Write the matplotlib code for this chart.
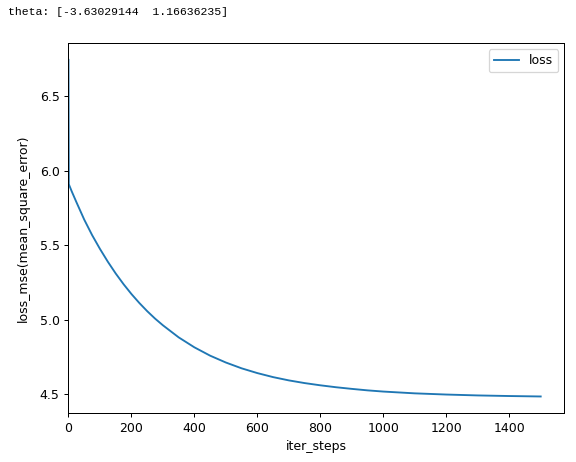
import matplotlib
matplotlib.use("Agg")
import matplotlib.pyplot as plt

# theta printed above the figure
theta = [-3.63029144, 1.16636235]

# loss
steps = [0, 1, 10, 25, 50, 75, 100, 125, 150, 175, 200, 225, 250, 275, 300,
         350, 400, 450, 500, 550, 600, 650, 700, 750, 800, 850, 900, 950,
         1000, 1100, 1200, 1300, 1400, 1500]
loss = [6.745, 5.91, 5.863, 5.79, 5.672, 5.568, 5.475, 5.389, 5.31, 5.238,
        5.172, 5.112, 5.057, 5.007, 4.962, 4.881, 4.814, 4.758, 4.712, 4.673,
        4.641, 4.614, 4.592, 4.574, 4.559, 4.546, 4.535, 4.525, 4.517, 4.505,
        4.497, 4.491, 4.487, 4.484]

fig = plt.figure(figsize=(6.4, 462 / 90), dpi=90)
fig.text(8 / 576, 1 - 12 / 462,
         "theta: [%.8f  %.8f]" % (theta[0], theta[1]),
         family="Liberation Mono", fontsize=9.2, va="center", ha="left")

ax = fig.add_axes([0.1189, 0.1054, 0.8608, 0.8015])
ax.plot(steps, loss, label="loss")
ax.set_xlim(0, 1575)
ax.set_xlabel("iter_steps")
ax.set_ylabel("loss_mse(mean_square_error)", labelpad=8)
ax.legend(loc="upper right")

fig.savefig("out.png", dpi=90)
